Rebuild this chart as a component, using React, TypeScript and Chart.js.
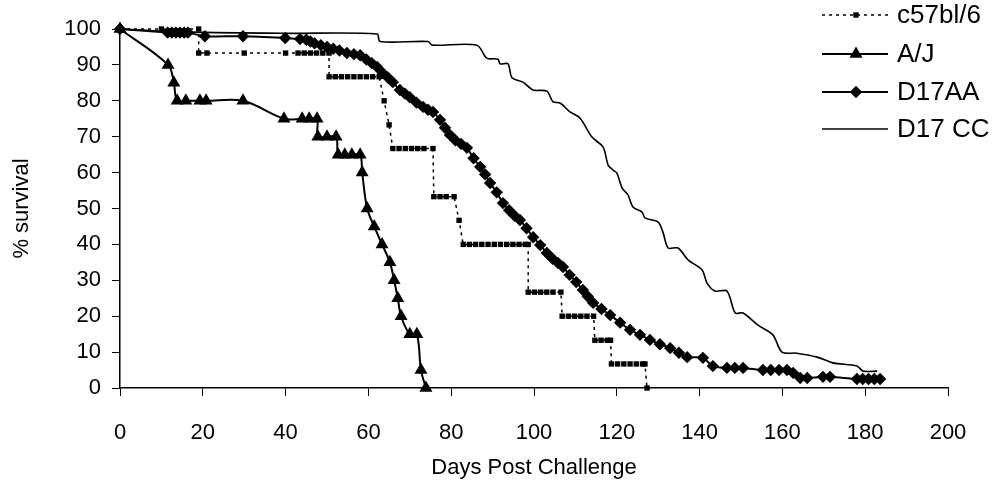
import React, { useEffect, useRef } from 'react';
import { Chart, registerables } from 'chart.js';

Chart.register(...registerables);

const FONT = '"Liberation Sans", Arial, Helvetica, sans-serif';

// ---- data ----
const seriesNames = ['c57bl/6', 'A/J', 'D17AA', 'D17 CC'];

const xTicks = [0, 20, 40, 60, 80, 100, 120, 140, 160, 180, 200];
const yTicks = [0, 10, 20, 30, 40, 50, 60, 70, 80, 90, 100];

const c57Days = [
  0, 10, 19, 19, 21, 30, 40, 43, 44.5, 46, 47.5, 49, 50.5, 50.5, 52, 53.5, 55, 56.5, 58, 59.5, 61, 62.6,
  63.8, 65, 65.9, 67.4, 68.9, 70.4, 71.9, 73.4, 75.6, 75.8, 77.3, 78.8, 80.7, 81.9, 82.9, 84.4, 85.9,
  87.4, 88.9, 90.4, 91.9, 93.4, 94.9, 96.4, 97.9, 98.6, 98.6, 100.1, 101.6, 103.1, 104.6, 106.5, 106.8,
  108.3, 109.8, 111.3, 112.8, 114.4, 114.7, 116.2, 117.7, 118.5, 118.7, 120.2, 121.7, 123.2, 124.7,
  126.2, 126.8, 127.3,
];
const c57Surv = [
  100, 100, 100, 93.3, 93.3, 93.3, 93.3, 93.3, 93.3, 93.3, 93.3, 93.3, 93.3, 86.7, 86.7, 86.7, 86.7,
  86.7, 86.7, 86.7, 86.7, 86.7, 80, 73.3, 66.7, 66.7, 66.7, 66.7, 66.7, 66.7, 66.7, 53.3, 53.3, 53.3,
  53.3, 46.7, 40, 40, 40, 40, 40, 40, 40, 40, 40, 40, 40, 40, 26.7, 26.7, 26.7, 26.7, 26.7, 26.7, 20,
  20, 20, 20, 20, 20, 13.3, 13.3, 13.3, 13.3, 6.7, 6.7, 6.7, 6.7, 6.7, 6.7, 6.7, 0,
];

const ajDays = [
  0, 11.6, 13, 13.8, 15.9, 19.3, 20.8, 29.7, 39.6, 44, 45.7, 47.6, 47.8, 50, 52.2, 52.7, 54.3, 56, 58,
  58.5, 59.7, 61.4, 63.3, 65.2, 66.2, 67.1, 67.9, 70, 71.7, 72.7, 73.9,
];
const ajSurv = [
  100, 90, 85, 80, 80, 80, 80, 80, 75, 75, 75, 75, 70, 70, 70, 65, 65, 65, 65, 60, 50, 45, 40, 35, 30,
  25, 20, 15, 15, 5, 0,
];

const d17aaDays = [
  0, 11.5, 12.5, 13.5, 14.5, 15.5, 16.4, 20.5, 29.7, 39.9, 43.5, 45, 46, 47, 48.5, 50, 51.5, 53, 54.8,
  56.5, 58, 59.5, 60.8, 62.1, 63.5, 64.7, 65.9, 67.6, 68.8, 70, 71.6, 73.2, 74.4, 75.6, 77.3, 78.5, 79.7,
  81, 82.4, 83.8, 85.4, 87, 88.2, 89.4, 91, 92.5, 94, 95.3, 96.6, 98.2, 99.8, 101.5, 103.1, 104.5, 105.8,
  107, 108.6, 110.2, 111.8, 113, 114.3, 116.3, 118.4, 120.8, 123.2, 125.6, 128, 130.4, 132.9, 135, 137,
  140.8, 143.2, 146.6, 148.5, 150.5, 155.3, 157.2, 159.2, 161.1, 162.6, 164.3, 166, 169.8, 171.5, 178,
  179.4, 180.8, 182.2, 183.6,
];
const d17aaSurv = [
  100, 99, 99, 99, 99, 99, 99, 98, 98, 97.5, 97.2, 97, 96.5, 96, 95.5, 95, 94.5, 94, 93.3, 93, 92.7,
  91.5, 90.5, 89.4, 87.7, 86.5, 85.2, 83, 82, 81, 79.5, 78.3, 77.5, 76.9, 74.7, 72.5, 70.5, 69, 68, 66.9,
  64, 61.6, 59.5, 57.1, 54.5, 51.5, 49.5, 48, 46.8, 44.5, 42, 39.8, 37.6, 36, 34.8, 33.7, 31.5, 29.5,
  27.3, 25.5, 23.7, 22, 20.3, 18.2, 16.2, 14.8, 13.4, 12.2, 11.1, 9.8, 8.6, 8.4, 6.1, 5.6, 5.6, 5.6, 5,
  5, 5, 5, 4.2, 2.8, 2.8, 3.1, 3.1, 2.5, 2.5, 2.5, 2.5, 2.5,
];

const d17ccDays = [
  0, 15, 40, 62.1, 62.8, 74.4, 75.4, 86.2, 88.6, 91.3, 91.8, 93.7, 94.7, 97.3, 99.8, 103.1, 104.6,
  106.3, 108.7, 111.1, 114, 116.7, 117.9, 119.1, 120, 121.3, 122.7, 123.9, 126.1, 126.8, 130, 131.2,
  132.4, 134.8, 137.2, 140.6, 141.8, 143.7, 146.6, 148.6, 150.5, 154.1, 157.7, 159.9, 163.5, 168.4,
  172.2, 178, 179.5, 182.9,
];
const d17ccSurv = [
  100, 99.2, 98.8, 98.6, 96.5, 96.5, 95.5, 95.5, 91.9, 91.6, 90.3, 90.3, 86.4, 85.2, 83, 82.7, 79.7,
  79.4, 76.9, 75.2, 69.9, 67.1, 62.1, 60.7, 59.9, 55.7, 53.8, 50.4, 49, 47.4, 46.2, 43.2, 39, 39, 35.7,
  32.9, 29.2, 27, 27, 20.9, 20.9, 17.5, 14.8, 10, 9.7, 8.6, 7, 6.1, 4.7, 4.7,
];

const toXY = (xs: number[], ys: number[]) => xs.map((x, i) => ({ x, y: ys[i] }));

// ---- custom legend ----
const LEGEND_Y = [15, 54, 92, 129];
const LEG_X0 = 822;
const LEG_X1 = 888;
const LEG_MX = 856;
const LEG_TX = 897;

function drawMarker(ctx: CanvasRenderingContext2D, style: string, r: number, x: number, y: number) {
  ctx.beginPath();
  if (style === 'rect') {
    const s = r * Math.SQRT1_2;
    ctx.rect(x - s, y - s, 2 * s, 2 * s);
  } else if (style === 'triangle') {
    let a = 0;
    ctx.moveTo(x + Math.sin(a) * r, y - Math.cos(a) * r);
    a += (2 * Math.PI) / 3;
    ctx.lineTo(x + Math.sin(a) * r, y - Math.cos(a) * r);
    a += (2 * Math.PI) / 3;
    ctx.lineTo(x + Math.sin(a) * r, y - Math.cos(a) * r);
    ctx.closePath();
  } else if (style === 'rectRot') {
    ctx.moveTo(x - r, y);
    ctx.lineTo(x, y - r);
    ctx.lineTo(x + r, y);
    ctx.lineTo(x, y + r);
    ctx.closePath();
  }
  ctx.fillStyle = '#000';
  ctx.fill();
}

const legendPlugin = {
  id: 'customLegend',
  afterDraw(chart: any) {
    const ctx: CanvasRenderingContext2D = chart.ctx;
    ctx.save();
    chart.data.datasets.forEach((ds: any, i: number) => {
      const y = LEGEND_Y[i];
      ctx.strokeStyle = '#000';
      ctx.lineWidth = ds.borderWidth;
      ctx.setLineDash(ds.borderDash || []);
      ctx.beginPath();
      ctx.moveTo(LEG_X0, y);
      ctx.lineTo(LEG_X1, y);
      ctx.stroke();
      ctx.setLineDash([]);
      if (ds.pointRadius > 0) drawMarker(ctx, ds.pointStyle, ds.pointRadius, LEG_MX, y);
      ctx.fillStyle = '#000';
      ctx.font = `26px ${FONT}`;
      ctx.textAlign = 'left';
      ctx.textBaseline = 'middle';
      ctx.fillText(seriesNames[i], LEG_TX, y + 1);
    });
    ctx.restore();
  },
};

export default function App() {
  const ref = useRef<HTMLCanvasElement | null>(null);

  useEffect(() => {
    if (!ref.current) return;
    const common = {
      showLine: true,
      borderColor: '#000',
      backgroundColor: '#000',
      pointBackgroundColor: '#000',
      pointBorderColor: '#000',
      pointBorderWidth: 0,
      clip: false as any,
    };
    const chart = new Chart(ref.current, {
      type: 'scatter',
      data: {
        datasets: [
          {
            ...common,
            label: seriesNames[0],
            data: toXY(c57Days, c57Surv),
            borderWidth: 1.5,
            borderDash: [3, 4],
            tension: 0,
            pointStyle: 'rect',
            pointRadius: 3.8,
          },
          {
            ...common,
            label: seriesNames[1],
            data: toXY(ajDays, ajSurv),
            borderWidth: 2,
            tension: 0.35,
            pointStyle: 'triangle',
            pointRadius: 7.5,
          },
          {
            ...common,
            label: seriesNames[2],
            data: toXY(d17aaDays, d17aaSurv),
            borderWidth: 2,
            tension: 0.3,
            pointStyle: 'rectRot',
            pointRadius: 6.2,
          },
          {
            ...common,
            label: seriesNames[3],
            data: toXY(d17ccDays, d17ccSurv),
            borderWidth: 1.6,
            tension: 0.3,
            pointStyle: 'circle',
            pointRadius: 0,
          },
        ] as any,
      },
      options: {
        responsive: false,
        animation: false,
        events: [],
        layout: { padding: { left: 0, top: 29, right: 60, bottom: 0 } },
        plugins: { legend: { display: false }, tooltip: { enabled: false } },
        scales: {
          x: {
            type: 'linear',
            min: 0,
            max: 200,
            afterFit: (s: any) => {
              s.height = 94;
            },
            afterBuildTicks: (s: any) => {
              s.ticks = xTicks.map((v) => ({ value: v }));
            },
            ticks: { color: '#000', font: { family: FONT, size: 22 }, padding: 24, maxRotation: 0 },
            grid: { display: true, drawOnChartArea: false, drawTicks: true, tickLength: 8, color: '#000', lineWidth: 1 },
            border: { display: true, color: '#000', width: 1.5 },
            title: {
              display: true,
              text: 'Days Post Challenge',
              color: '#000',
              font: { family: FONT, size: 22 },
              padding: { top: 0, bottom: 1 },
            },
          },
          y: {
            type: 'linear',
            min: 0,
            max: 100,
            afterFit: (s: any) => {
              s.width = 120;
            },
            afterBuildTicks: (s: any) => {
              s.ticks = yTicks.map((v) => ({ value: v }));
            },
            ticks: { color: '#000', font: { family: FONT, size: 22 }, padding: 11 },
            grid: { display: true, drawOnChartArea: false, drawTicks: true, tickLength: 8, color: '#000', lineWidth: 1 },
            border: { display: true, color: '#000', width: 1.5 },
            title: {
              display: true,
              text: '% survival',
              color: '#000',
              font: { family: FONT, size: 22 },
              padding: { top: 9, bottom: 0 },
            },
          },
        },
      } as any,
      plugins: [legendPlugin as any],
    });
    return () => chart.destroy();
  }, []);

  return (
    <div style={{ position: 'fixed', left: 0, top: 0, width: 1008, height: 482, background: '#fff' }}>
      <canvas ref={ref} width={1008} height={482} style={{ width: 1008, height: 482, display: 'block' }} />
    </div>
  );
}
